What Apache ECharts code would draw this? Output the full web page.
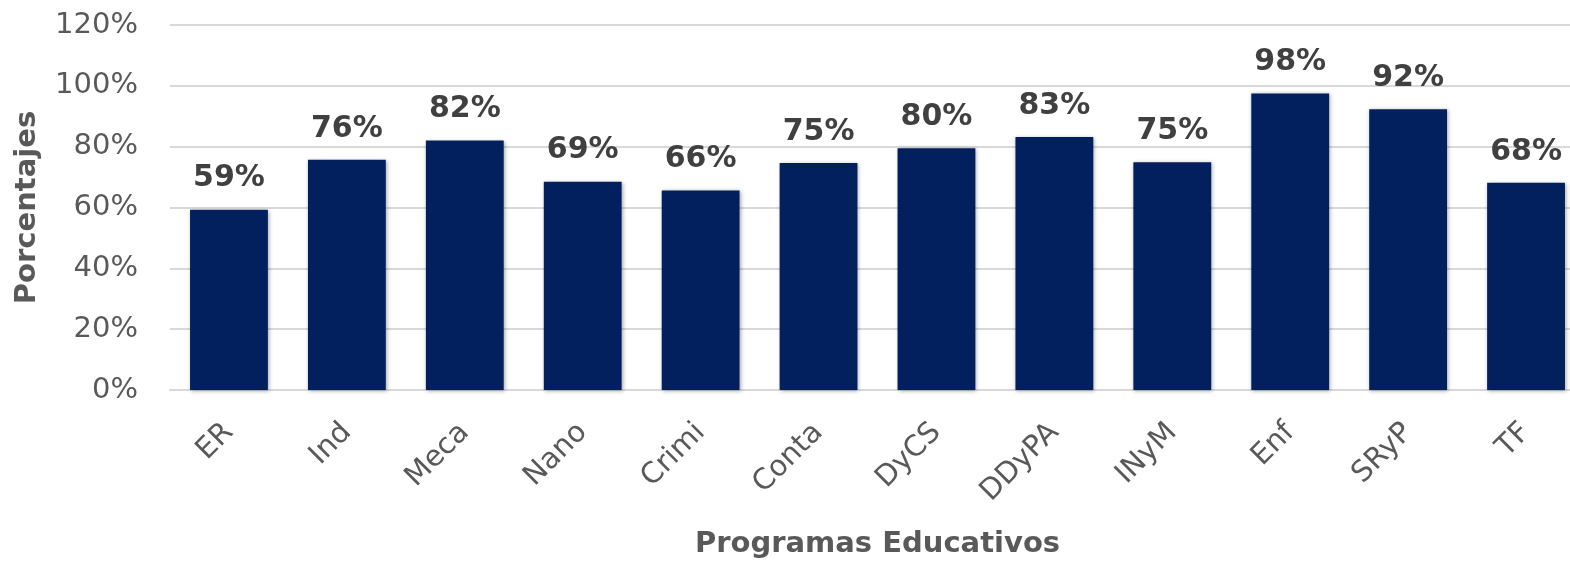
<!DOCTYPE html>
<html>
<head>
<meta charset="utf-8">
<script src="https://cdn.jsdelivr.net/npm/echarts@6/dist/echarts.min.js"></script>
<style>
html,body{margin:0;padding:0;background:#fff;}
#chart{width:1570px;height:561px;}
</style>
</head>
<body>
<div id="chart"></div>
<script>
const categories = ['ER','Ind','Meca','Nano','Crimi','Conta','DyCS','DDyPA','INyM','Enf','SRyP','TF'];
const values = [0.593, 0.757, 0.820, 0.685, 0.656, 0.746, 0.795, 0.832, 0.749, 0.975, 0.923, 0.681];
const yTicks = [0, 0.2, 0.4, 0.6, 0.8, 1.0, 1.2];
const xTitle = 'Programas Educativos';
const yTitle = 'Porcentajes';

const FONT = 'DejaVu Sans';
const chart = echarts.init(document.getElementById('chart'));
chart.setOption({
  backgroundColor: '#ffffff',
  animation: false,
  grid: { left: 170, right: -15, top: 25, bottom: 171, containLabel: false, outerBoundsMode: 'none' },
  xAxis: {
    type: 'category',
    data: categories,
    name: xTitle,
    nameLocation: 'middle',
    nameGap: 140,
    nameTextStyle: { fontFamily: FONT, fontWeight: 'bold', fontSize: 29, color: '#595959' },
    axisLine: { show: true, lineStyle: { color: '#d9d9d9', width: 2 } },
    axisTick: { show: false },
    axisLabel: { rotate: 45, margin: 38, fontFamily: FONT, fontSize: 29, color: '#595959' }
  },
  yAxis: {
    type: 'value',
    min: yTicks[0],
    max: yTicks[yTicks.length - 1],
    interval: yTicks[1] - yTicks[0],
    name: yTitle,
    nameLocation: 'middle',
    nameGap: 128,
    nameTextStyle: { fontFamily: FONT, fontWeight: 'bold', fontSize: 29, color: '#595959' },
    axisLine: { show: false },
    axisTick: { show: false },
    axisLabel: {
      margin: 32,
      fontFamily: FONT, fontSize: 29, color: '#595959',
      formatter: v => Math.round(v * 100) + '%'
    },
    splitLine: { lineStyle: { color: '#d9d9d9', width: 2 } }
  },
  series: [{
    type: 'bar',
    data: values,
    barWidth: '66%',
    itemStyle: {
      color: '#021f5e',
      shadowColor: 'rgba(0,0,0,0.35)',
      shadowBlur: 4,
      shadowOffsetX: 1,
      shadowOffsetY: 1
    },
    label: {
      show: true,
      position: 'top',
      distance: 16,
      fontFamily: FONT, fontWeight: 'bold', fontSize: 30, color: '#404040',
      formatter: p => Math.round(p.value * 100) + '%'
    }
  }]
});
</script>
</body>
</html>
